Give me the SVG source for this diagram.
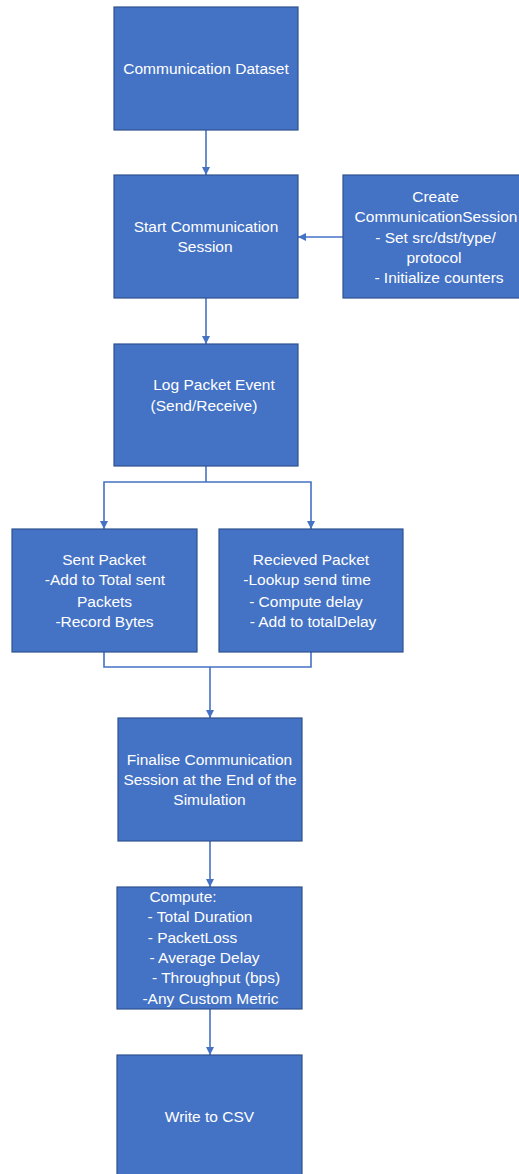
<svg xmlns="http://www.w3.org/2000/svg" width="519" height="1174" viewBox="0 0 519 1174">
<defs>
<marker id="ah" viewBox="0 0 10 10" refX="10" refY="5" markerWidth="8" markerHeight="8" markerUnits="userSpaceOnUse" orient="auto">
<path d="M0,0 L10,5 L0,10 Z" fill="#4472C4"/>
</marker>
<style>
.box{fill:#4472C4;stroke:#2F528F;stroke-width:1.2}
.t{font-family:"Liberation Sans",Arial,sans-serif;font-size:15.5px;fill:#FFFFFF;text-anchor:middle}
.c{fill:none;stroke:#4472C4;stroke-width:1.6}
.a{marker-end:url(#ah)}
</style>
</defs>
<rect width="519" height="1174" fill="#FFFFFF"/>
<g id="connectors">
<line class="c a" x1="206" y1="130" x2="206" y2="175"/>
<line class="c a" x1="343" y1="237" x2="298" y2="237"/>
<line class="c a" x1="206" y1="298" x2="206" y2="344"/>
<polyline class="c" points="206,466 206,482"/>
<polyline class="c a" points="206,482 104,482 104,529"/>
<polyline class="c a" points="206,482 311,482 311,529"/>
<polyline class="c" points="104,652 104,667 311,667 311,652"/>
<line class="c a" x1="210" y1="667" x2="210" y2="718"/>
<line class="c a" x1="210" y1="841" x2="210" y2="887"/>
<line class="c a" x1="210" y1="1009" x2="210" y2="1055"/>
</g>
<g id="n1">
<rect class="box" x="114" y="7" width="184" height="123"/>
<text class="t" x="206" y="74">Communication Dataset</text>
</g>
<g id="n2">
<rect class="box" x="114" y="175" width="184" height="123"/>
<text class="t" x="206" y="232">Start Communication</text>
<text class="t" x="205" y="252">Session</text>
</g>
<g id="n3">
<rect class="box" x="343" y="175" width="185" height="123"/>
<text class="t" x="435.5" y="202">Create</text>
<text class="t" x="436" y="222">CommunicationSession</text>
<text class="t" x="435.5" y="243">- Set src/dst/type/</text>
<text class="t" x="434" y="263">protocol</text>
<text class="t" x="439" y="283">- Initialize counters</text>
</g>
<g id="n4">
<rect class="box" x="114" y="344" width="184" height="122"/>
<text class="t" x="214" y="390">Log Packet Event</text>
<text class="t" x="204" y="411">(Send/Receive)</text>
</g>
<g id="n5">
<rect class="box" x="12" y="529" width="185" height="123"/>
<text class="t" x="104" y="565">Sent Packet</text>
<text class="t" x="105" y="585">-Add to Total sent</text>
<text class="t" x="104.5" y="607">Packets</text>
<text class="t" x="104.5" y="627">-Record Bytes</text>
</g>
<g id="n6">
<rect class="box" x="219" y="529" width="184" height="123"/>
<text class="t" x="311" y="565">Recieved Packet</text>
<text class="t" x="307" y="585">-Lookup send time</text>
<text class="t" x="306" y="607">- Compute delay</text>
<text class="t" x="313" y="627">- Add to totalDelay</text>
</g>
<g id="n7">
<rect class="box" x="118" y="718" width="184" height="123"/>
<text class="t" x="209.5" y="765">Finalise Communication</text>
<text class="t" x="210" y="785">Session at the End of the</text>
<text class="t" x="209.5" y="805">Simulation</text>
</g>
<g id="n8">
<rect class="box" x="117" y="887" width="185" height="122"/>
<text class="t" x="183" y="902">Compute:</text>
<text class="t" x="200" y="922">- Total Duration</text>
<text class="t" x="192.5" y="943">- PacketLoss</text>
<text class="t" x="204.5" y="963">- Average Delay</text>
<text class="t" x="216" y="983">- Throughput (bps)</text>
<text class="t" x="210.5" y="1004">-Any Custom Metric</text>
</g>
<g id="n9">
<rect class="box" x="117" y="1055" width="185" height="125"/>
<text class="t" x="209.5" y="1122">Write to CSV</text>
</g>
</svg>
